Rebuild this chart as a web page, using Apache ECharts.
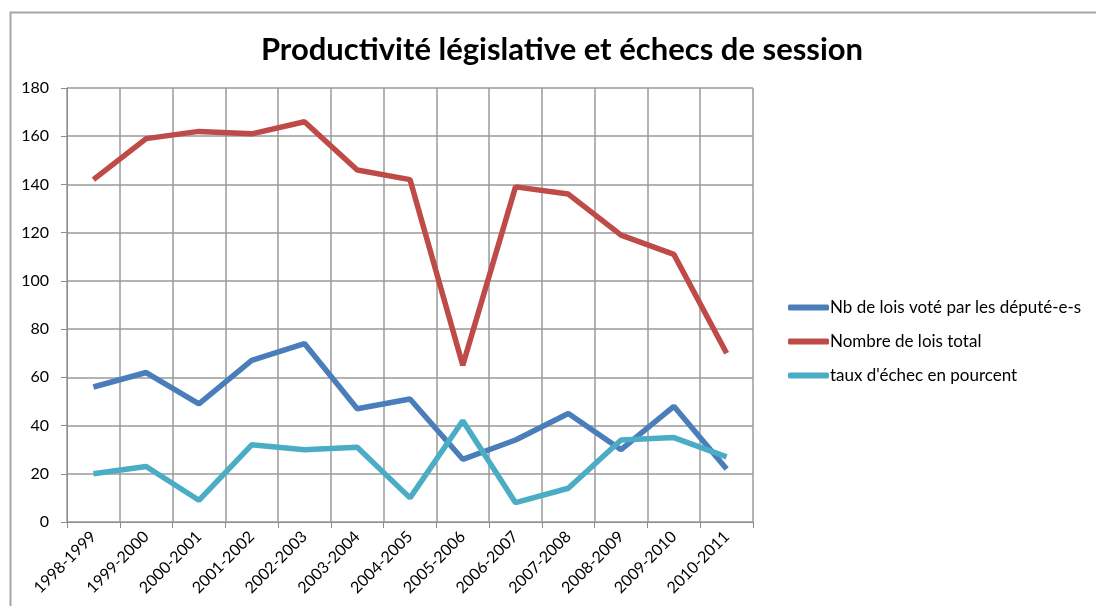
<!DOCTYPE html>
<html><head><meta charset="utf-8">
<script src="https://cdn.jsdelivr.net/npm/echarts@6/dist/echarts.min.js"></script>
<style>html,body{margin:0;padding:0;background:#fff;}#c{width:1096px;height:606px;}</style>
</head><body><div id="c"></div>
<script>
const categories = ['1998-1999','1999-2000','2000-2001','2001-2002','2002-2003','2003-2004','2004-2005','2005-2006','2006-2007','2007-2008','2008-2009','2009-2010','2010-2011'];
const nbLoisDeputes = [56, 62, 49, 67, 74, 47, 51, 26, 34, 45, 30, 48, 22];
const nombreLoisTotal = [142, 159, 162, 161, 166, 146, 142, 65, 139, 136, 119, 111, 70];
const tauxEchec = [20, 23, 9, 32, 30, 31, 10, 42, 8, 14, 34, 35, 27];
const seriesNames = ['Nb de lois voté par les député-e-s', 'Nombre de lois total', "taux d'échec en pourcent"];
const colors = ['#4A7EBB', '#BE4B48', '#4BACC6'];

const chart = echarts.init(document.getElementById('c'));
const font = 'Lato, "Open Sans", sans-serif';
chart.setOption({
  animation: false,
  textStyle: { fontFamily: font },
  title: {
    text: 'Productivité législative et échecs de session',
    left: 557, top: 29, textAlign: 'center',
    textStyle: { fontFamily: font, fontWeight: 'bold', fontSize: 31, color: '#000' }
  },
  graphic: [{
    type: 'rect', left: 8, top: 10, shape: { width: 1200, height: 800 },
    style: { fill: 'none', stroke: '#a6a6a6', lineWidth: 2 }, silent: true
  }],
  legend: {
    orient: 'vertical', left: 783, top: 294, itemGap: 17,
    itemWidth: 41, itemHeight: 6, icon: 'roundRect',
    textStyle: { fontFamily: font, fontSize: 17, color: '#000', padding: [0, 0, 0, -4] },
    data: seriesNames
  },
  grid: { left: 67, right: 343, top: 88, bottom: 84 },
  xAxis: {
    type: 'category', data: categories, boundaryGap: true,
    axisLine: { lineStyle: { color: '#8c8c8c', width: 1 } },
    axisTick: { show: true, interval: 0, length: 6, lineStyle: { color: '#8c8c8c' } },
    splitLine: { show: true, interval: 0, lineStyle: { color: '#9a9a9a', width: 1.5 } },
    axisLabel: { interval: 0, rotate: 45, fontSize: 16, color: '#000', margin: 12, fontFamily: font }
  },
  yAxis: {
    type: 'value', min: 0, max: 180, interval: 20,
    axisLine: { show: true, lineStyle: { color: '#8c8c8c', width: 1 } },
    axisTick: { show: true, length: 6, lineStyle: { color: '#8c8c8c' } },
    splitLine: { show: true, lineStyle: { color: '#9a9a9a', width: 1.5 } },
    axisLabel: { fontSize: 16, color: '#000', margin: 18, fontFamily: font }
  },
  series: [
    { name: seriesNames[0], type: 'line', data: nbLoisDeputes, showSymbol: false, color: colors[0], lineStyle: { width: 5.5, color: colors[0] } },
    { name: seriesNames[1], type: 'line', data: nombreLoisTotal, showSymbol: false, color: colors[1], lineStyle: { width: 5.5, color: colors[1] } },
    { name: seriesNames[2], type: 'line', data: tauxEchec, showSymbol: false, color: colors[2], lineStyle: { width: 5.5, color: colors[2] } }
  ]
});
</script></body></html>
